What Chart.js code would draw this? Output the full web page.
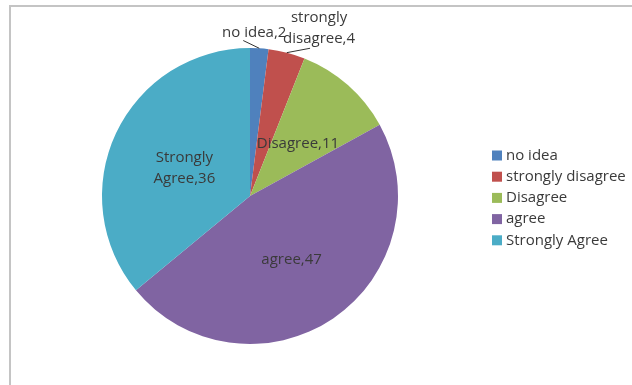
<!DOCTYPE html>
<html>
<head>
<meta charset="utf-8">
<script src="https://cdn.jsdelivr.net/npm/chart.js@4/dist/chart.umd.min.js"></script>
<style>
  html, body { margin: 0; padding: 0; background: #fff; }
  #wrap { position: relative; width: 632px; height: 385px; }
</style>
</head>
<body>
<div id="wrap"><canvas id="c" width="632" height="385"></canvas></div>
<script>
// Survey responses
const categories = ['no idea', 'strongly disagree', 'Disagree', 'agree', 'Strongly Agree'];
const responses = [2, 4, 11, 47, 36];
// Slice label texts (line breaks where the label wraps)
const sliceLabels = [['no idea,2'], ['strongly', 'disagree,4'], ['Disagree,11'], ['agree,47'], ['Strongly', 'Agree,36']];

const palette = ['#4F81BD', '#C0504D', '#9BBB59', '#8064A2', '#4BACC6'];
const FONT = '15px "Open Sans", Lato, sans-serif';
const TEXT = '#3a3a3a';

// How each slice label is placed: inside at a fraction of the radius, or outside with a leader line
const placement = [
  { outside: true, r: 1.10, dx: -6, dy: -1, lineFrom: [-11, 8] },
  { outside: true, r: 1.17, dx: 26, dy: 0, lineFrom: [-9, 20] },
  { outside: false, r: 0.49, dy: 2 },
  { outside: false, r: 0.50, dy: 3 },
  { outside: false, r: 0.49, dy: 3 }
];

const framePlugin = {
  id: 'frame',
  beforeDraw(chart) {
    const ctx = chart.ctx;
    ctx.save();
    ctx.strokeStyle = '#c4c4c4';
    ctx.lineWidth = 2;
    ctx.beginPath();
    ctx.moveTo(10, 385);
    ctx.lineTo(10, 6);
    ctx.lineTo(632, 6);
    ctx.stroke();
    ctx.restore();
  }
};

const sliceLabelPlugin = {
  id: 'sliceLabels',
  afterDatasetsDraw(chart) {
    const ctx = chart.ctx;
    const meta = chart.getDatasetMeta(0);
    ctx.save();
    ctx.font = FONT;
    ctx.fillStyle = TEXT;
    ctx.textAlign = 'center';
    ctx.textBaseline = 'middle';
    const lineH = 21;
    meta.data.forEach((arc, i) => {
      const p = arc.getProps(['x', 'y', 'startAngle', 'endAngle', 'outerRadius'], true);
      const mid = (p.startAngle + p.endAngle) / 2;
      const pl = placement[i];
      const cx = p.x + Math.cos(mid) * p.outerRadius * pl.r + (pl.dx || 0);
      const cy = p.y + Math.sin(mid) * p.outerRadius * pl.r + (pl.dy || 0);
      const lines = sliceLabels[i];
      if (pl.outside) {
        const ex = p.x + Math.cos(mid) * p.outerRadius;
        const ey = p.y + Math.sin(mid) * p.outerRadius;
        ctx.strokeStyle = '#333';
        ctx.lineWidth = 1;
        ctx.beginPath();
        ctx.moveTo(cx + pl.lineFrom[0], cy + pl.lineFrom[1]);
        ctx.lineTo(ex, ey);
        ctx.stroke();
      }
      const top = cy - (lines.length - 1) * lineH / 2;
      lines.forEach((t, k) => ctx.fillText(t, cx, top + k * lineH));
    });
    ctx.restore();
  }
};

const legendPlugin = {
  id: 'sideLegend',
  afterDraw(chart) {
    const ctx = chart.ctx;
    ctx.save();
    ctx.font = FONT;
    ctx.textAlign = 'left';
    ctx.textBaseline = 'middle';
    categories.forEach((name, i) => {
      const y = 155.5 + i * 21.2;
      ctx.fillStyle = palette[i];
      ctx.fillRect(492, y - 5, 10, 10);
      ctx.fillStyle = TEXT;
      ctx.fillText(name, 506, y);
    });
    ctx.restore();
  }
};

new Chart(document.getElementById('c'), {
  type: 'pie',
  data: {
    labels: categories,
    datasets: [{
      data: responses,
      backgroundColor: palette,
      borderWidth: 0
    }]
  },
  options: {
    responsive: false,
    animation: false,
    layout: { padding: { left: 102, top: 48, right: 234, bottom: 41 } },
    plugins: {
      legend: { display: false },
      tooltip: { enabled: false }
    }
  },
  plugins: [framePlugin, sliceLabelPlugin, legendPlugin]
});
</script>
</body>
</html>
